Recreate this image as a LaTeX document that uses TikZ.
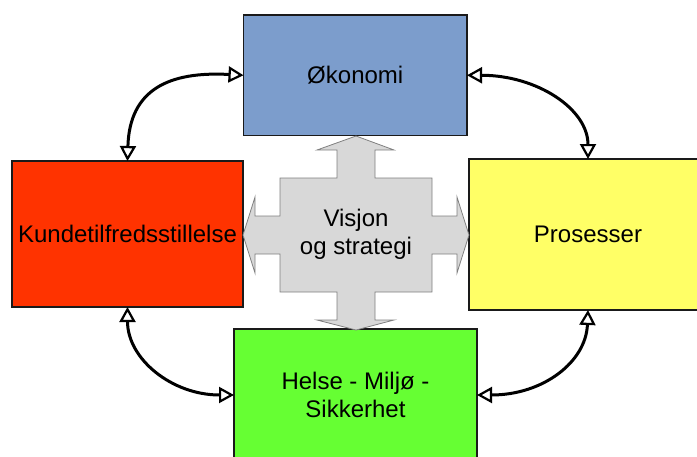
\documentclass[tikz,border=0pt]{standalone}
\usepackage{fontspec}
\setmainfont{Liberation Sans}
\usetikzlibrary{arrows.meta}
\definecolor{boxblue}{HTML}{7C9DCC}
\definecolor{boxred}{HTML}{FF3300}
\definecolor{boxyellow}{HTML}{FFFF66}
\definecolor{boxgreen}{HTML}{66FF33}
\definecolor{boxline}{HTML}{1A1A1A}
\definecolor{crossfill}{HTML}{D8D8D8}
\definecolor{crossline}{HTML}{808080}
\begin{document}
\begin{tikzpicture}[x=1pt,y=-1pt,
  box/.style={draw=boxline, line width=1.2pt, inner sep=0pt, outer sep=0pt,
    font=\fontsize{24}{28}\selectfont, align=center},
  link/.style={line width=3pt,
    {Triangle[open,fill=white,length=15pt,width=16pt,line width=2.2pt]}-{Triangle[open,fill=white,length=15pt,width=16pt,line width=2.2pt]}},
  cross/.style={fill=crossfill, draw=crossline, line width=0.8pt, line join=miter},
  label/.style={font=\fontsize{24}{28}\selectfont, align=center, inner sep=0pt}
]
\useasboundingbox (0,0) rectangle (697,456);
\clip (0,0) rectangle (697,456);

\node[box, fill=boxblue, minimum width=223.5pt, minimum height=120.5pt] (okn) at (355.25,75.25) {Økonomi};
\node[box, fill=boxred, minimum width=231pt, minimum height=146pt] (kunde) at (127.5,234) {Kundetilfredsstillelse};
\node[box, fill=boxyellow, minimum width=238pt, minimum height=151pt] (pros) at (588,234.5) {Prosesser};
\node[box, fill=boxgreen, minimum width=243pt, minimum height=132pt] (hms) at (355.5,395) {Helse - Miljø -\\Sikkerhet};

\draw[cross] (280,178) -- (337,178) -- (337,150) -- (317,150) -- (356,136) -- (394,150) -- (375,150) -- (375,178)
  -- (432,178) -- (432,216) -- (457,216) -- (457,197) -- (469,235) -- (457,273) -- (457,254) -- (432,254)
  -- (432,292) -- (375,292) -- (375,320) -- (394,320) -- (356,330) -- (317,320) -- (337,320) -- (337,292)
  -- (280,292) -- (280,254) -- (255,254) -- (255,273) -- (243,235) -- (255,197) -- (255,216) -- (280,216) -- cycle;
\node[label] (vis) at (356,234) {Visjon\\og strategi};

\draw[link] (okn.west) .. controls +(-74,-4) and +(2,-72) .. (kunde.north);
\draw[link] (okn.east) .. controls +(70,0) and +(0,-50) .. (pros.north);
\draw[link] (kunde.south) .. controls +(0,52) and +(-62,0) .. (hms.west);
\draw[link] (pros.south) .. controls +(-2,52) and +(66,0) .. (hms.east);
\end{tikzpicture}
\end{document}
